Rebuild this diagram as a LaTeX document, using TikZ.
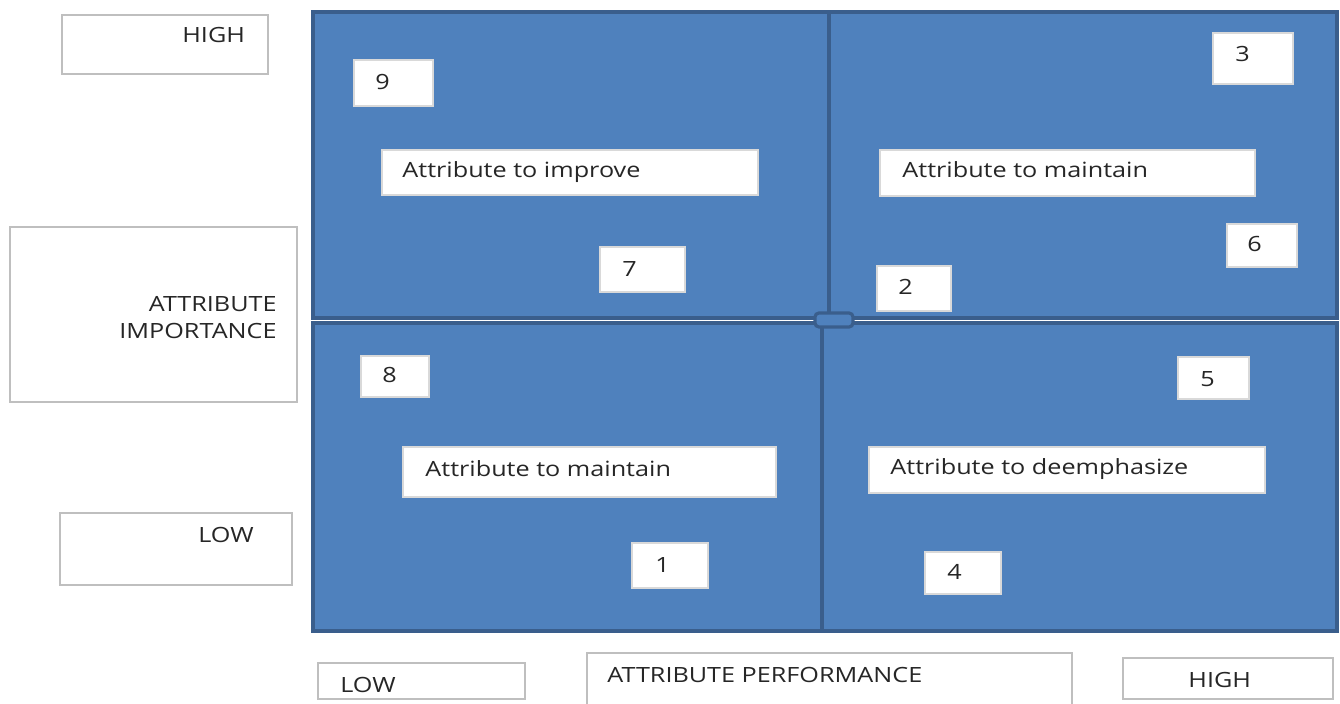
\documentclass[tikz,border=0pt]{standalone}
\usepackage{fontspec}
\setmainfont{Open Sans}[FakeStretch=1.2]
\usepackage{xcolor}
\usetikzlibrary{fit}
\definecolor{quadblue}{RGB}{79,129,189}
\definecolor{quadedge}{RGB}{58,94,140}

\begin{document}
\begin{tikzpicture}[x=0.5pt,y=-0.5pt,
quad/.style={draw=quadedge,line width=1.6pt,fill=quadblue,inner sep=0pt},
tag/.style={draw=black!25,line width=0.8pt,fill=white,inner sep=0pt},
cell/.style={draw=black!15,line width=0.6pt,fill=white,inner sep=0pt},
txt/.style={anchor=base west,inner sep=0pt,text=black!85,
font=\fontsize{10.5}{13.5}\selectfont}]
\useasboundingbox[fill=white] (0,0) rectangle (1340,704);

% the four quadrants
\node[quad,fit={(313,12) (829,318)}] (qtl) {};
\node[quad,fit={(829,12) (1337,318)}] (qtr) {};
\node[quad,fit={(313,323) (822,631)}] (qbl) {};
\node[quad,fit={(822,323) (1337,631)}] (qbr) {};
\node[quad,rounded corners=2pt,fit={(815,313) (853,327)}] (joint) {};

% axis labels
\node[tag,fit={(62,15) (268,74)}] (yhigh) {};
\node[txt] at (182,43) {HIGH};
\node[tag,fit={(10,227) (297,402)}] (yname) {};
\node[txt,anchor=base east,align=right] at (277,339) {ATTRIBUTE\\IMPORTANCE};
\node[tag,fit={(60,513) (292,585)}] (ylow) {};
\node[txt] at (198,543) {LOW};
\node[tag,fit={(318,663) (525,699)}] (xlow) {};
\node[txt] at (340,693) {LOW};
\node[tag,fit={(587,653) (1072,710)}] (xname) {};
\node[txt] at (607,683) {ATTRIBUTE PERFORMANCE};
\node[tag,fit={(1123,658) (1333,699)}] (xhigh) {};
\node[txt] at (1188,688) {HIGH};

% top left
\node[cell,fit={(354,60) (433,106)}] (b9) {};
\node[txt] at (375,90) {9};
\node[cell,fit={(382,150) (758,195)}] (improve) {};
\node[txt] at (402,178) {Attribute to improve};
\node[cell,fit={(600,247) (685,292)}] (b7) {};
\node[txt] at (622,277) {7};

% top right
\node[cell,fit={(1213,33) (1293,84)}] (b3) {};
\node[txt] at (1235,62) {3};
\node[cell,fit={(880,150) (1255,196)}] (keephigh) {};
\node[txt] at (902,178) {Attribute to maintain};
\node[cell,fit={(1227,224) (1297,267)}] (b6) {};
\node[txt] at (1247,252) {6};
\node[cell,fit={(877,266) (951,311)}] (b2) {};
\node[txt] at (898,295) {2};

% bottom left
\node[cell,fit={(361,356) (429,397)}] (b8) {};
\node[txt] at (382,383) {8};
\node[cell,fit={(403,447) (776,497)}] (keeplow) {};
\node[txt] at (425,477) {Attribute to maintain};
\node[cell,fit={(632,543) (708,588)}] (b1) {};
\node[txt] at (655,573) {1};

% bottom right
\node[cell,fit={(1178,357) (1249,399)}] (b5) {};
\node[txt] at (1200,387) {5};
\node[cell,fit={(869,447) (1265,493)}] (deemph) {};
\node[txt] at (890,475) {Attribute to deemphasize};
\node[cell,fit={(925,552) (1001,594)}] (b4) {};
\node[txt] at (947,580) {4};
\end{tikzpicture}
\end{document}
